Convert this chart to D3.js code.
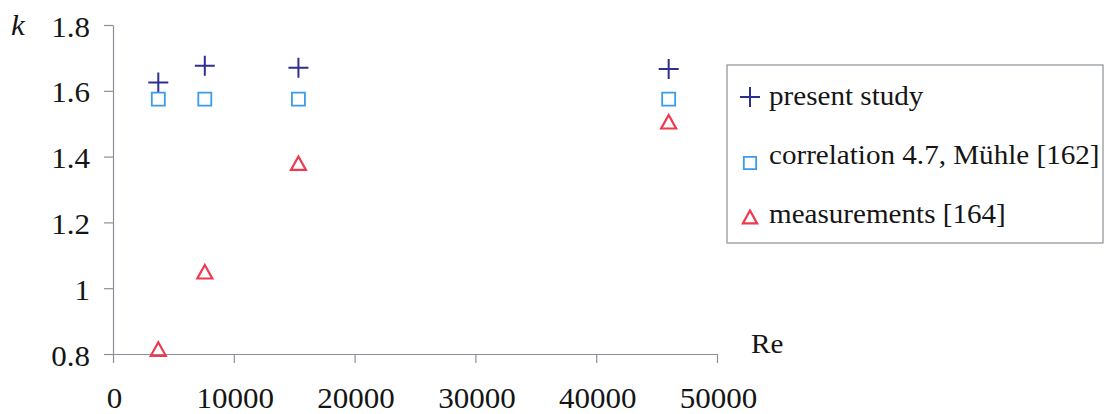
<!DOCTYPE html>
<html>
<head>
<meta charset="utf-8">
<script src="https://cdn.jsdelivr.net/npm/d3@7"></script>
<style>
  html, body { margin: 0; padding: 0; background: #fff; }
  svg { display: block; }
</style>
</head>
<body>
<svg id="chart" width="1105" height="414"></svg>
<script>
// Reynolds numbers of the test cases
const reValues = [3750, 7600, 15350, 46000];
// Shape factor k per source
const presentStudy = [1.625, 1.676, 1.670, 1.666];
const correlationMuehle = [1.575, 1.575, 1.575, 1.575];
const measurements = [0.815, 1.05, 1.38, 1.506];
// Axis ticks
const xTicks = [0, 10000, 20000, 30000, 40000, 50000];
const yTicks = [0.8, 1, 1.2, 1.4, 1.6, 1.8];
// Legend labels
const seriesNames = ["present study", "correlation 4.7, Mühle [162]", "measurements [164]"];

const FONT_FAMILY = "Liberation Serif";
const TICK_FONT = 29, TICK_SX = 1.07;
const LEG_FONT = 28, LEG_SX = 1.04;
const axisColor = "#8b9098";
const textColor = "#151515";
const colors = ["#2f2f8f", "#3c9be8", "#ee3a4e"];

const svg = d3.select("#chart");
const x = d3.scaleLinear().domain([0, 50000]).range([113, 717]);
const y = d3.scaleLinear().domain([0.8, 1.8]).range([354, 25]);

// Axes
const yAxis = svg.append("g").attr("transform", `translate(${x(0)},0)`)
  .call(d3.axisLeft(y).tickValues(yTicks).tickSize(9).tickSizeOuter(0).tickPadding(0)
    .tickFormat(d => d === 1 ? "1" : d3.format(".1f")(d)));
const xAxis = svg.append("g").attr("transform", `translate(0,${y(0.8)})`)
  .call(d3.axisBottom(x).tickValues(xTicks).tickSize(9).tickSizeOuter(0).tickPadding(0)
    .tickFormat(d3.format("d")));
[yAxis, xAxis].forEach(g => {
  g.attr("font-family", FONT_FAMILY).attr("font-size", TICK_FONT);
  g.select(".domain").attr("stroke", axisColor).attr("stroke-width", 1.2);
  g.selectAll(".tick line").attr("stroke", axisColor).attr("stroke-width", 1.2);
  g.selectAll(".tick text").attr("fill", textColor);
});
yAxis.selectAll(".tick text").attr("x", 0).attr("dy", null).attr("y", 11)
  .attr("transform", `translate(-23,0) scale(${TICK_SX},1)`);
xAxis.selectAll(".tick text").attr("y", 0).attr("dy", null)
  .attr("transform", `translate(1,53.5) scale(${TICK_SX},1)`);

// Axis titles
svg.append("text").attr("transform", `translate(11,35) scale(${TICK_SX},1)`)
  .attr("font-family", FONT_FAMILY).attr("font-size", TICK_FONT).attr("font-style", "italic")
  .attr("fill", textColor).text("k");
svg.append("text").attr("transform", `translate(751,353) scale(${LEG_SX},1)`)
  .attr("font-family", FONT_FAMILY).attr("font-size", LEG_FONT).attr("fill", textColor).text("Re");

// Marker shapes
function plusPath(cx, cy, r) {
  return `M${cx - r},${cy}H${cx + r}M${cx},${cy - r}V${cy + r}`;
}
function squarePath(cx, cy, r) {
  return `M${cx - r},${cy - r}H${cx + r}V${cy + r}H${cx - r}Z`;
}
function trianglePath(cx, cy, r) {
  const h = r * 0.9;
  return `M${cx},${cy - h}L${cx + r},${cy + h}L${cx - r},${cy + h}Z`;
}
const shapes = [
  { fn: plusPath, r: 10, w: 2 },
  { fn: squarePath, r: 6.5, w: 1.8 },
  { fn: trianglePath, r: 7.5, w: 2.2 }
];
const seriesValues = [presentStudy, correlationMuehle, measurements];

seriesValues.forEach((vals, i) => {
  svg.append("g").selectAll("path")
    .data(vals.map((v, j) => ({ re: reValues[j], k: v })))
    .join("path")
    .attr("d", d => shapes[i].fn(x(d.re), y(d.k), shapes[i].r))
    .attr("fill", "none")
    .attr("stroke", colors[i])
    .attr("stroke-width", shapes[i].w);
});

// Legend
const legend = svg.append("g");
legend.append("rect").attr("x", 727).attr("y", 65).attr("width", 376).attr("height", 178)
  .attr("fill", "#fff").attr("stroke", axisColor).attr("stroke-width", 1.2);
const legendRows = [97, 163, 217];
const legendBase = [105, 164, 223];
seriesNames.forEach((name, i) => {
  legend.append("path")
    .attr("d", shapes[i].fn(750, legendRows[i], shapes[i].r * (i === 0 ? 1 : 0.95)))
    .attr("fill", "none").attr("stroke", colors[i]).attr("stroke-width", shapes[i].w);
  legend.append("text").attr("transform", `translate(769,${legendBase[i]}) scale(${LEG_SX},1)`)
    .attr("font-family", FONT_FAMILY).attr("font-size", LEG_FONT).attr("fill", textColor).text(name);
});
</script>
</body>
</html>
